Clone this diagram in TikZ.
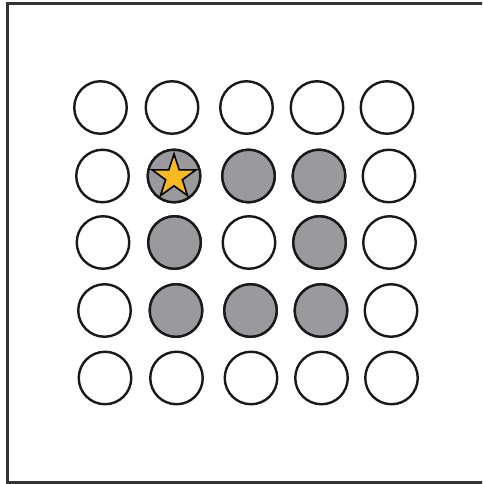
\documentclass[tikz,border=0pt]{standalone}
\usetikzlibrary{shapes.geometric}
\definecolor{ringgray}{HTML}{9A9A9E}
\definecolor{staryellow}{HTML}{F7B921}
\definecolor{framegray}{HTML}{333333}
\tikzset{
  dot/.style={circle, draw=black!90, line width=2.4pt, minimum size=52.5pt, inner sep=0pt, fill=white},
  graydot/.style={dot, fill=ringgray},
  starmark/.style={star, star points=5, star point ratio=2.6, minimum size=46pt, inner sep=0pt, draw=black, line width=1.6pt, fill=staryellow},
}
\begin{document}
\begin{tikzpicture}[x=1pt,y=-1pt]
\useasboundingbox (0,0) rectangle (482,484);
\clip (0,0) rectangle (482,484);
\fill[white] (0,0) rectangle (482,484);
\draw[framegray, line width=2.2pt] (500,3.5) -- (7.5,3.5) -- (7.5,482.5) -- (500,482.5);
% row y positions and x shifts
\foreach \r/\y/\s in {1/107.5/-2.5, 2/176/-0.5, 3/242.5/0, 4/310.5/1.5, 5/378/2}{
  \foreach \c/\x in {1/103, 2/174.5, 3/249, 4/319.5, 5/389.5}{
    \node[dot] (c\r\c) at (\x+\s,\y) {};
  }
}
\foreach \n in {c22,c23,c24,c32,c34,c42,c43,c44}{
  \node[graydot] at (\n) {};
}
\node[starmark] (star) at ([yshift=-1pt]c22) {};
\end{tikzpicture}
\end{document}
